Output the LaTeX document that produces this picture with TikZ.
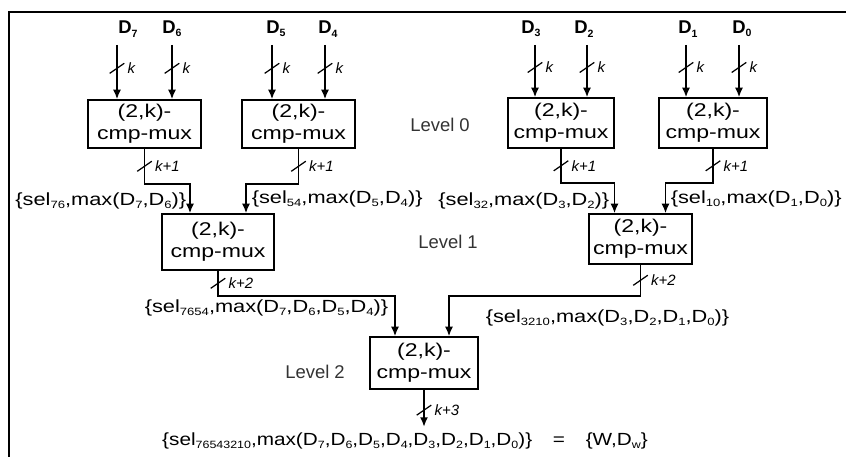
\documentclass[tikz,border=0pt]{standalone}
\usepackage{fontspec}
\usepackage{graphicx}
\setmainfont{Liberation Sans}
\usetikzlibrary{calc,arrows.meta}

\newcommand{\lo}[1]{\raisebox{-0.35ex}{\fontsize{6}{6}\selectfont #1}}
\newcommand{\wide}[1]{\scalebox{1.25}[1]{#1}}
\newcommand{\wl}[2][1.24]{\scalebox{#1}[1]{#2}}
\newcommand{\muxtext}{\wide{(2,k)-}\\\wide{cmp-mux}}

\tikzset{
  mux/.style 2 args={draw, align=center, inner sep=0pt, minimum width=#1*0.2mm,
    minimum height=#2*0.2mm, font=\fontsize{10.5}{12.5}\selectfont},
  lbl/.style={inner sep=0pt, font=\fontsize{10}{12}\selectfont},
  lvl/.style={inner sep=0pt, black!80, font=\fontsize{10.5}{12}\selectfont},
  dlbl/.style={inner sep=0pt, font=\fontsize{10.5}{12}\selectfont\bfseries},
  buslbl/.style={inner sep=1.5pt, font=\fontsize{8.5}{9}\selectfont\itshape},
  bus/.style={inner sep=0pt, minimum width=2.6mm, minimum height=1.7mm,
    label={[buslbl]east:#1}},
}

\begin{document}
\begin{tikzpicture}[x=0.2mm, y=-0.2mm, line width=0.9pt, >={Latex[length=1.9mm,width=1.6mm]}]
\useasboundingbox (0,0) rectangle (846,457);
\draw[line width=1.2pt] (9,480) -- (9,12) -- (870,12);

% level 0
\node[mux={113}{48}] (m00) at (144.5,124) {\muxtext};
\node[mux={113}{48}] (m01) at (298.5,124) {\muxtext};
\node[mux={106}{50}] (m02) at (561,123) {\muxtext};
\node[mux={108}{50}] (m03) at (713,123) {\muxtext};
% level 1
\node[mux={112}{56}] (m10) at (218,242) {\muxtext};
\node[mux={103}{50}] (m11) at (640.5,239) {\muxtext};
% level 2
\node[mux={108}{52}] (m20) at (424,363) {\muxtext};

\node[lvl] (lv0) at (440,125) {Level 0};
\node[lvl] (lv1) at (448,242) {Level 1};
\node[lvl] (lv2) at (315,372) {Level 2};

% inputs
\foreach \n/\x/\lx/\b in {7/117/128/m00, 6/172/172/m00, 5/272/276/m01, 4/325/328/m01,
                          3/535/531/m02, 2/587/584/m02, 1/686/688/m03, 0/739/742/m03} {
  \coordinate (i\n) at (\x,45);
  \node[dlbl] (d\n) at (\lx,29) {D\lo{\n}};
  \draw[->] (i\n) -- node[bus=k, pos=.43] (b\n) {} (i\n |- \b.north);
}

\path (m10.north) +(-28,0) coordinate (m10l) +(28,0) coordinate (m10r);
\path (m11.north) +(-26,0) coordinate (m11l) +(25,0) coordinate (m11r);
\path (m20.north) +(-29,0) coordinate (m20l) +(25,0) coordinate (m20r);

% level 0 -> level 1
\draw[->] (m00.south) -- node[bus=k+1] (b00) {} ++(0,35) -| (m10l);
\draw[->] (m01.south) -- node[bus=k+1] (b01) {} ++(0,35) -| (m10r);
\draw[->] (m02.south) -- node[bus=k+1] (b02) {} ++(0,34) -| (m11l);
\draw[->] (m03.south) -- node[bus=k+1] (b03) {} ++(0,34) -| (m11r);

\node[lbl, anchor=east] (s76) at (187,201) {\wl{\{sel\lo{76},max(D\lo{7},D\lo{6})\}}};
\node[lbl, anchor=west] (s54) at (251,199) {\wl{\{sel\lo{54},max(D\lo{5},D\lo{4})\}}};
\node[lbl, anchor=east] (s32) at (610,201) {\wl{\{sel\lo{32},max(D\lo{3},D\lo{2})\}}};
\node[lbl, anchor=west] (s10) at (670,199) {\wl{\{sel\lo{10},max(D\lo{1},D\lo{0})\}}};

% level 1 -> level 2
\draw[->] (m10.south) -- node[bus=k+2] (b10) {} ++(0,25) -| (m20l);
\draw[->] (m11.south) -- node[bus=k+2] (b11) {} ++(0,31) -| (m20r);

\node[lbl, anchor=east] (s7654) at (389,308) {\wl{\{sel\lo{7654},max(D\lo{7},D\lo{6},D\lo{5},D\lo{4})\}}};
\node[lbl, anchor=west] (s3210) at (485,318) {\wl{\{sel\lo{3210},max(D\lo{3},D\lo{2},D\lo{1},D\lo{0})\}}};

% output
\coordinate (w) at ($(m20.south)+(0,37)$);
\draw[->] (m20.south) -- node[bus=k+3, pos=.55] (b20) {} (w);
\node[lbl] (sall) at (405,441) {\wl[1.18]{\{sel\lo{76543210},max(D\lo{7},D\lo{6},D\lo{5},D\lo{4},D\lo{3},D\lo{2},D\lo{1},D\lo{0})\}\quad=\quad\{W,D\lo{w}\}}};

% bus slashes
\foreach \s in {b7,b6,b5,b4,b3,b2,b1,b0,b00,b01,b02,b03,b10,b11,b20}
  \draw[line width=.7pt] (\s.south west) -- (\s.north east);
\end{tikzpicture}
\end{document}
